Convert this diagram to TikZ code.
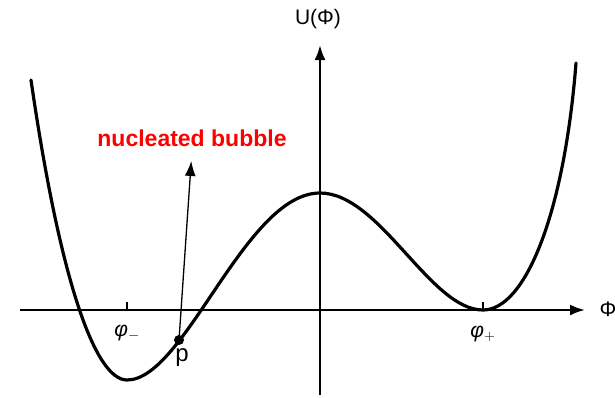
\documentclass[tikz,border=0pt]{standalone}
\usepackage{fontspec}
\setmainfont{Liberation Sans}
\usetikzlibrary{arrows.meta}

\begin{document}
\begin{tikzpicture}[x=1pt, y=-1pt, >={Latex[length=15pt, width=11pt]}, axis/.style={line width=2.4pt}, lab/.style={font=\fontsize{21}{23}\selectfont, inner sep=2pt}]
	\useasboundingbox (0,0) rectangle (615,397);
	% axes
	\draw[axis, ->] (20,310) -- (585,310);
	\draw[axis, ->] (320,395) -- (320,45);
	\node[lab] (phi) at (608,309) {Φ};
	\node[lab] (U) at (318,19) {U(Φ)};
	\foreach \x in {127,483} {\draw[line width=1.6pt] (\x,310) -- (\x,302);}
	\node[lab] (phiminus) at (127,333) {\textit{φ}$_{-}$};
	\node[lab] (phiplus) at (483,334) {\textit{φ}$_{+}$};
	% potential
	\draw[line width=3.2pt, line cap=round] (31,80) .. controls (60,280) and (95,380) .. (127,380)
		.. controls (185,380) and (245,193) .. (320,193)
		.. controls (380,193) and (430,310) .. (483,310)
		.. controls (525,310) and (564,215) .. (576,63);
	\coordinate (p) at (179,340);
	\fill (p) circle (5pt);
	\node[font=\fontsize{24}{26}\selectfont] (plab) at (182,358) {p};
	\node[text=red, font=\bfseries\fontsize{23}{26}\selectfont] (bubble) at (192,138) {nucleated bubble};
	\draw[->, line width=1.3pt, shorten >=11pt] (p) -- (bubble.south);
\end{tikzpicture}
\end{document}
